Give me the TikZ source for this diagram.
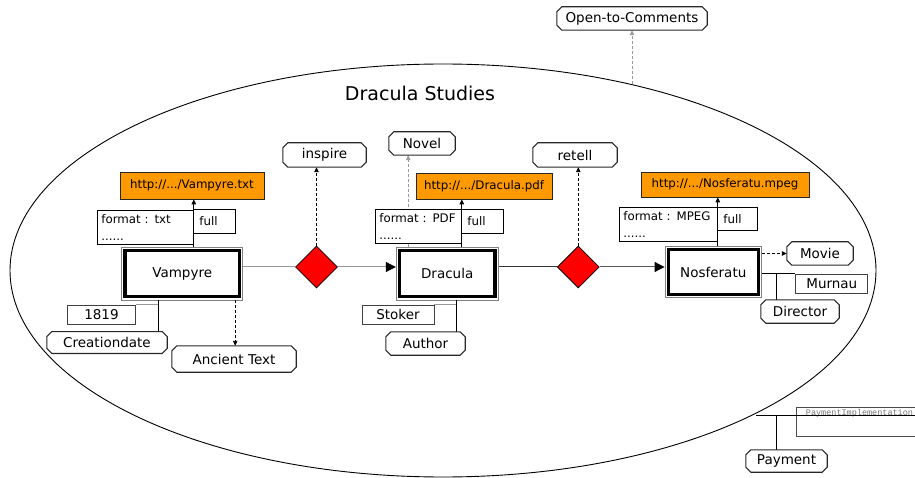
\documentclass[tikz,border=0pt]{standalone}
\usepackage{fontspec}
\setmainfont{DejaVu Sans}
\newfontfamily\codefont{Liberation Mono}
\usetikzlibrary{arrows.meta,shapes.geometric,calc}
\definecolor{urlorange}{HTML}{FF9900}
\definecolor{linegray}{HTML}{999999}
\definecolor{relred}{HTML}{FF0000}
\definecolor{framegray}{HTML}{808080}

\begin{document}
\begin{tikzpicture}[x=1pt,y=-1pt,
  lbl/.style={font=\fontsize{13.5}{16}\selectfont},
  small/.style={font=\fontsize{11.8}{16.5}\selectfont},
  octagon/.style={lbl, inner sep=0pt, draw=none},
  octline/.style={draw=black!85, line width=1.1pt},
  entity/.style={lbl, draw=framegray, line width=0.8pt, inner sep=0pt},
  entityline/.style={draw=black, line width=3.2pt},
  relation/.style={diamond, draw=black, line width=0.8pt, fill=relred,
    minimum width=42pt, minimum height=42pt, inner sep=0pt},
  urlbox/.style={small, draw=black!85, line width=0.8pt, fill=urlorange, inner sep=0pt},
  metabox/.style={small, draw=black, line width=0.8pt, fill=white, inner xsep=4pt,
    inner ysep=0pt, align=left, anchor=north west, minimum height=34pt},
  fullbox/.style={small, draw=black, line width=0.8pt, fill=white, inner xsep=6pt,
    inner ysep=0pt, align=left, anchor=north west},
  valuebox/.style={lbl, draw=black!75, line width=0.8pt, fill=white, inner sep=0pt},
  attr/.style={draw=black, line width=1pt},
  attrgray/.style={draw=linegray, line width=1pt},
  dasharrow/.style={dash pattern=on 3pt off 2pt, line width=0.9pt,
    -{Triangle[length=5pt,width=4.5pt]}},
  urlarrow/.style={draw=black, line width=0.9pt, -{Triangle[length=5pt,width=4.5pt]}},
  flowarrow/.style={line width=1pt, -{Triangle[length=10pt,width=10pt,color=black]}},
]
\useasboundingbox (0,0) rectangle (915,478);

% the study as a whole
\draw[line width=0.9pt] (443,270.5) ellipse [x radius=433, y radius=206.5];
\node[font=\fontsize{19}{22}\selectfont] (title) at (420,93) {Dracula Studies};
\coordinate (elltop) at (632,84);
\coordinate (paystart) at (756,415);

% works
\node[entity, minimum width=121pt, minimum height=52.7pt] (vamp) at (182.2,273.6) {Vampyre};
\node[entity, minimum width=102pt, minimum height=52.3pt] (drac) at (447.2,273.8) {Dracula};
\node[entity, minimum width=96.7pt, minimum height=50.7pt] (nosf) at (713.3,272) {Nosferatu};

% relations
\node[relation] (rel1) at (316.5,267) {};
\node[relation] (rel2) at (578.3,267) {};

% octagonal labels
\node[octagon, minimum width=150pt, minimum height=23pt] (otc) at (632,18.5) {Open-to-Comments};
\node[octagon, minimum width=83pt, minimum height=24pt] (inspire) at (324.5,155) {inspire};
\node[octagon, minimum width=66pt, minimum height=23pt] (novel) at (422,143.5) {Novel};
\node[octagon, minimum width=84pt, minimum height=24pt] (retell) at (575,155) {retell};
\node[octagon, minimum width=66pt, minimum height=23pt] (movie) at (820,253.5) {Movie};
\node[octagon, minimum width=78pt, minimum height=23pt] (director) at (800,311.5) {Director};
\node[octagon, minimum width=120pt, minimum height=21.5pt] (creation) at (107,342.5) {Creationdate};
\node[octagon, minimum width=124pt, minimum height=26pt] (ancient) at (234,359) {Ancient Text};
\node[octagon, minimum width=79pt, minimum height=23pt] (author) at (425.5,343.5) {Author};
\node[octagon, minimum width=81pt, minimum height=22pt] (payment) at (786.5,461) {Payment};

% connectors between works and relations
\draw[linegray, line width=1pt] (vamp.east |- rel1.west) -- (rel1.west);
\draw[linegray, flowarrow] (rel1.east) -- (drac.west |- rel1.east);
\draw[black!80, line width=1pt] (drac.east |- rel2.west) -- (rel2.west);
\draw[black!65, flowarrow] (rel2.east) -- (nosf.west |- rel2.east);

% typing arrows
\draw[dasharrow, draw=black] (rel1.north) -- (rel1.north |- inspire.south);
\draw[dasharrow, draw=black] (rel2.north) -- (rel2.north |- retell.south);
\draw[dasharrow, draw=linegray] (elltop) -- (elltop |- otc.south);
\draw[dasharrow, draw=linegray] ([xshift=-39pt]drac.north) -- ([xshift=-39pt]drac.north |- novel.south);
\draw[dasharrow, draw=black] ([xshift=53pt]vamp.south) -- ([xshift=53pt]vamp.south |- ancient.north);
\draw[dasharrow, draw=black] (nosf.east |- movie.west) -- (movie.west);

% resources
\node[urlbox, minimum width=144pt, minimum height=27pt] (uv) at (192,185.5) {http://.../Vampyre.txt};
\node[urlbox, minimum width=136pt, minimum height=26pt] (ud) at (484,186) {http://.../Dracula.pdf};
\node[urlbox, minimum width=168pt, minimum height=25pt] (un) at (725,184.5) {http://.../Nosferatu.mpeg};

\node[metabox, text width=88pt] (fv) at (97,210) {format : txt\\......};
\node[fullbox, text width=30pt, minimum height=24pt] (fullv) at (193,209) {full};
\node[metabox, text width=78pt] (fd) at (375,209) {format : PDF\\......};
\node[fullbox, text width=30pt, minimum height=24pt] (fulld) at (461,209) {full};
\node[metabox, text width=90pt] (fn) at (619,207) {format : MPEG\\......};
\node[fullbox, text width=28pt, minimum height=23pt] (fulln) at (717,207) {full};

\draw[urlarrow] (fv.east |- vamp.north) -- (fv.east |- uv.south);
\draw[urlarrow] (fd.east |- drac.north) -- (fd.east |- ud.south);
\draw[urlarrow] (fn.east |- nosf.north) -- (fn.east |- un.south);

% attribute values
\node[valuebox, minimum width=68pt, minimum height=19pt] (year) at (101.5,314.5) {\raisebox{-1.5pt}{1819}};
\node[valuebox, minimum width=72pt, minimum height=19pt] (stoker) at (398,314.5) {\raisebox{-2pt}{Stoker}};
\node[valuebox, minimum width=72pt, minimum height=19pt] (murnau) at (831.8,283.7) {\raisebox{-2.5pt}{Murnau}};
\node[draw=black!70, line width=0.8pt, anchor=north west, inner xsep=10pt, inner ysep=1.5pt,
  text width=125pt, text height=6pt, text depth=20pt, align=left,
  font=\codefont\fontsize{8.5}{9}\selectfont, text=black!55] (payimpl) at (795.5,407.3)
  {PaymentImplementation};

\draw[attr] ([xshift=-24pt]vamp.south) -- ([xshift=-24pt]vamp.south |- creation.north);
\draw[attrgray] (year.north east) -- ([xshift=-24pt]vamp.south |- year.north);
\draw[attr] ([xshift=9pt]drac.south) -- ([xshift=9pt]drac.south |- author.north);
\draw[attrgray] (stoker.north east) -- ([xshift=9pt]drac.south |- stoker.north);
\draw[attr] (nosf.east |- murnau.north west) -- (murnau.north west);
\draw[attr] ([xshift=-24pt]director.north |- murnau.north) -- ([xshift=-24pt]director.north);
\draw[attr] (paystart) -- (payimpl.east |- paystart);
\draw[attr] ([xshift=-10.5pt]payment.north |- paystart) -- ([xshift=-10.5pt]payment.north);

% thick inner frames of the works
\foreach \n in {vamp,drac,nosf}
  \draw[entityline] ($(\n.north west)+(3.6,3.6)$) rectangle ($(\n.south east)+(-3.6,-3.6)$);

% chamfered outlines of the labels
\foreach \n in {otc,inspire,novel,retell,movie,director,creation,ancient,author,payment}
  \draw[octline] ($(\n.north west)+(5,0)$) -- ($(\n.north east)+(-5,0)$)
    -- ($(\n.north east)+(0,5)$) -- ($(\n.south east)+(0,-5)$)
    -- ($(\n.south east)+(-5,0)$) -- ($(\n.south west)+(5,0)$)
    -- ($(\n.south west)+(0,-5)$) -- ($(\n.north west)+(0,5)$) -- cycle;
\end{tikzpicture}
\end{document}
